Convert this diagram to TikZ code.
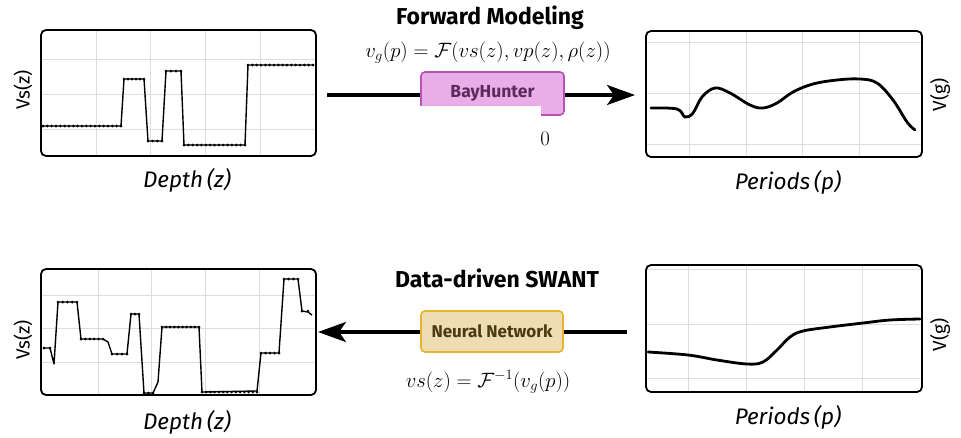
\documentclass[tikz,border=0pt]{standalone}
\usepackage{fontspec}
\newfontfamily\fira{Fira Sans}
\usetikzlibrary{arrows.meta}
\definecolor{bayfill}{HTML}{E9AEE9}
\definecolor{bayedge}{HTML}{B552B5}
\definecolor{baytext}{HTML}{5C2A5C}
\definecolor{nnfill}{HTML}{EEDCB2}
\definecolor{nnedge}{HTML}{E6B52E}
\definecolor{nntext}{HTML}{4A3A12}
\definecolor{gridc}{HTML}{DDDDDD}
\newcommand\dotrow[3]{%
  \pgfmathtruncatemacro\nn{max(1,round((#2-#1)/4.3))}%
  \foreach \i in {0,...,\nn}{\fill ({#1+(#2-#1)*\i/\nn},#3) circle (1.5pt);}}
\tikzset{
  plotbox/.style={draw=black, line width=1.8pt, rounded corners=5pt, inner sep=0pt},
  gridline/.style={draw=gridc, line width=0.7pt},
  stepcurve/.style={draw=black, line width=1.4pt, line join=round},
  smoothcurve/.style={draw=black, line width=2.8pt, line cap=round, line join=round},
  axlab/.style={font=\fira\fontsize{19}{22}\selectfont},
  xlab/.style={font=\fira\itshape\fontsize{22.5}{26}\selectfont},
  title/.style={font=\fira\bfseries\fontsize{23}{27}\selectfont},
  formula/.style={font=\fontsize{19.5}{22}\selectfont},
  baybox/.style={draw=bayedge, fill=bayfill, line width=1.6pt, rounded corners=4pt,
    minimum width=143pt, minimum height=43pt, inner sep=0pt,
    font=\fira\bfseries\fontsize{17.5}{20}\selectfont, text=baytext},
  nnbox/.style={draw=nnedge, fill=nnfill, line width=1.6pt, rounded corners=4pt,
    minimum width=142pt, minimum height=41pt, inner sep=0pt,
    font=\fira\bfseries\fontsize{17}{20}\selectfont, text=nntext},
  bigarrow/.style={draw=black, line width=3.6pt, -{Stealth[length=28pt,width=20pt,inset=7pt]}}
}
\begin{document}
\begin{tikzpicture}[x=1pt,y=-1pt]
\useasboundingbox (0,0) rectangle (961,437);

% ---------- top-left plot ----------
\foreach \gx in {96,150,205,260}{\draw[gridline] (\gx,31) -- (\gx,155);}
\foreach \gy in {59,94,129}{\draw[gridline] (42,\gy) -- (315,\gy);}
\draw[stepcurve] (43,126) -- (121,126) -- (124,79) -- (144,79) -- (148,141) -- (162,141)
  -- (166,71) -- (181,71) -- (184,145) -- (245,145) -- (248,65) -- (313,65);
\dotrow{43}{121}{126}\dotrow{124}{144}{79}\dotrow{148}{162}{141}
\dotrow{166}{181}{71}\dotrow{184}{245}{145}\dotrow{248}{313}{65}
\node[plotbox, minimum width=275pt, minimum height=126pt] (p1) at (178.5,93) {};
\node[axlab, rotate=90] (p1y) at (23,90) {Vs(z)};
\node[xlab] (p1x) at (187,180) {Depth\,(z)};

% ---------- top-right plot ----------
\foreach \gx in {689,746,802,859}{\draw[gridline] (\gx,32) -- (\gx,156);}
\foreach \gy in {42,93,144}{\draw[gridline] (647,\gy) -- (921,\gy);}
\draw[smoothcurve] plot[smooth, tension=0.6] coordinates {(651,108) (677,109) (685,117) (693,113)
  (702,97) (715,88) (730,93) (750,105) (763,108) (777,103) (793,92) (813,84) (837,80)
  (860,79) (877,83) (893,100) (907,122) (915,130)};
\node[plotbox, minimum width=276pt, minimum height=126pt] (p2) at (784,94) {};
\node[axlab, rotate=90] (p2y) at (940,95) {V(g)};
\node[xlab] (p2x) at (788,182) {Periods\,(p)};

% ---------- top connector ----------
\coordinate (a1s) at (327,95);
\coordinate (a1e) at (635,95);
\draw[bigarrow] (a1s) -- (a1e);
\node[title] (t1) at (490,18) {Forward Modeling};
\node[formula] (f1) at (488,53) {$v_g(p) = \mathcal{F}(vs(z), vp(z), \rho(z))$};
\node[baybox] (bay) at (492.5,93.5) {BayHunter};
\fill[white] (419,106) rectangle (541,153);
\node[formula] (zero) at (545,139) {$0$};

% ---------- bottom-left plot ----------
\foreach \gx in {98,151,205,259}{\draw[gridline] (\gx,270) -- (\gx,394);}
\foreach \gy in {295,328,362}{\draw[gridline] (42,\gy) -- (315,\gy);}
\draw[stepcurve] (44,348) -- (50,348) -- (54,364) -- (58,302) -- (77,302) -- (81,339)
  -- (103,339) -- (108,342) -- (112,354) -- (127,354) -- (131,314) -- (139,314)
  -- (144,393) -- (153,393) -- (158,382) -- (162,327) -- (199,327) -- (202,392)
  -- (257,391) -- (261,353) -- (279,353) -- (284,279) -- (298,279) -- (302,311)
  -- (308,312) -- (312,315);
\dotrow{44}{50}{348}\dotrow{58}{77}{302}\dotrow{81}{103}{339}\dotrow{112}{127}{354}
\dotrow{131}{139}{314}\dotrow{144}{153}{393}\dotrow{162}{199}{327}\dotrow{202}{257}{392}
\dotrow{261}{279}{353}\dotrow{284}{298}{279}\dotrow{302}{308}{311}
\node[plotbox, minimum width=275pt, minimum height=126pt] (p3) at (178.5,332) {};
\node[axlab, rotate=90] (p3y) at (23,340) {Vs(z)};
\node[xlab] (p3x) at (187,422) {Depth\,(z)};

% ---------- bottom-right plot ----------
\foreach \gx in {688,746,804,862}{\draw[gridline] (\gx,266) -- (\gx,391);}
\foreach \gy in {269,324,378}{\draw[gridline] (647,\gy) -- (921,\gy);}
\draw[smoothcurve] plot[smooth, tension=0.6] coordinates {(648,352) (688,355) (717,360)
  (747,364) (763,362) (777,350) (790,337) (803,331) (830,327) (863,323) (890,320) (920,319)};
\node[plotbox, minimum width=276pt, minimum height=127pt] (p4) at (784,328.5) {};
\node[axlab, rotate=90] (p4y) at (940,335) {V(g)};
\node[xlab] (p4x) at (788,417) {Periods\,(p)};

% ---------- bottom connector ----------
\coordinate (a2s) at (627,332);
\coordinate (a2e) at (318,332);
\draw[bigarrow] (a2s) -- (a2e);
\node[title] (t2) at (497,278) {Data-driven SWANT};
\node[nnbox] (nn) at (492,331.5) {Neural Network};
\node[formula] (f2) at (488,382) {$vs(z) = \mathcal{F}^{-1}(v_g(p))$};
\end{tikzpicture}
\end{document}
